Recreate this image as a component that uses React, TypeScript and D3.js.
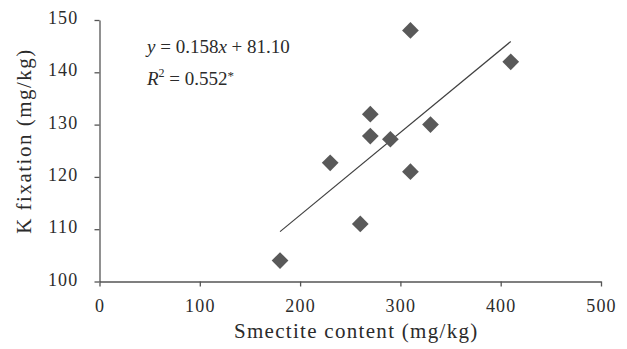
import { useEffect, useRef } from "react"
import * as d3 from "d3"

// Smectite content (mg/kg) vs K fixation (mg/kg)
const smectite = [180, 230, 260, 270, 270, 290, 310, 310, 330, 410]
const kFixation = [104, 122.7, 111, 132, 127.8, 127.2, 148, 121, 130, 142]

const xTicks = [0, 100, 200, 300, 400, 500]
const yTicks = [100, 110, 120, 130, 140, 150]

const slope = 0.158
const intercept = 81.1

const FONT = "'Liberation Serif', 'Times New Roman', serif"
const INK = "#2b2b2b"

export default function App() {
  const ref = useRef<SVGSVGElement>(null)

  useEffect(() => {
    if (!ref.current) return
    const el = ref.current
    d3.select(el).selectAll("*").remove()

    const W = 627
    const H = 349
    const svg = d3.select(el).attr("width", W).attr("height", H).attr("viewBox", `0 0 ${W} ${H}`)

    svg.append("rect").attr("width", W).attr("height", H).attr("fill", "white")

    const x = d3.scaleLinear().domain([0, 500]).range([99.5, 601])
    const y = d3.scaleLinear().domain([100, 150]).range([281.5, 20])

    const xAxis = svg
      .append("g")
      .attr("transform", `translate(0,${y(100)})`)
      .call(d3.axisBottom(x).tickValues(xTicks).tickSize(5).tickSizeOuter(0).tickPadding(13))
    const yAxis = svg
      .append("g")
      .attr("transform", `translate(${x(0)},0)`)
      .call(d3.axisLeft(y).tickValues(yTicks).tickSize(5).tickSizeOuter(0).tickPadding(16))

    for (const ax of [xAxis, yAxis]) {
      ax.select(".domain").attr("stroke", "#555").attr("stroke-width", 1.3)
      ax.selectAll(".tick line").attr("stroke", "#555").attr("stroke-width", 1.3)
      ax.selectAll(".tick text")
        .attr("fill", INK)
        .attr("font-family", FONT)
        .attr("font-size", 18)
        .attr("letter-spacing", 1.2)
    }
    yAxis.selectAll(".tick text").attr("dy", "0.2em")

    // trend line over the observed range
    const [x0, x1] = d3.extent(smectite) as [number, number]
    svg
      .append("line")
      .attr("x1", x(x0))
      .attr("y1", y(slope * x0 + intercept))
      .attr("x2", x(x1))
      .attr("y2", y(slope * x1 + intercept))
      .attr("stroke", "#404040")
      .attr("stroke-width", 1.2)

    const diamond = d3.symbol().type(d3.symbolSquare).size(140)
    svg
      .append("g")
      .selectAll("path")
      .data(smectite.map((s, i) => [s, kFixation[i]]))
      .join("path")
      .attr("d", diamond)
      .attr("transform", (d) => `translate(${x(d[0])},${y(d[1])}) rotate(45)`)
      .attr("fill", "#595959")

    // equation
    const eq = svg
      .append("text")
      .attr("x", 147)
      .attr("y", 53)
      .attr("font-family", FONT)
      .attr("font-size", 19)
      .attr("fill", INK)
    eq.append("tspan").attr("font-style", "italic").text("y")
    eq.append("tspan").text(" = 0.158")
    eq.append("tspan").attr("font-style", "italic").text("x")
    eq.append("tspan").text(" + 81.10")

    const r2 = svg
      .append("text")
      .attr("x", 147)
      .attr("y", 85)
      .attr("font-family", FONT)
      .attr("font-size", 19)
      .attr("fill", INK)
    r2.append("tspan").attr("font-style", "italic").text("R")
    r2.append("tspan").attr("font-size", 12).attr("dy", -8).text("2")
    r2.append("tspan").attr("dy", 8).text(" = 0.552")
    r2.append("tspan").attr("font-size", 13).attr("dy", -5).text("*")

    svg
      .append("text")
      .attr("x", (x(0) + x(500)) / 2 + 6)
      .attr("y", 338)
      .attr("text-anchor", "middle")
      .attr("font-family", FONT)
      .attr("font-size", 21)
      .attr("letter-spacing", 1.3)
      .attr("fill", INK)
      .text("Smectite content (mg/kg)")

    svg
      .append("text")
      .attr("transform", `translate(31,141) rotate(-90)`)
      .attr("text-anchor", "middle")
      .attr("font-family", FONT)
      .attr("font-size", 21)
      .attr("letter-spacing", 1.5)
      .attr("fill", INK)
      .text("K fixation (mg/kg)")
  }, [])

  return <svg ref={ref} style={{ position: "absolute", left: 0, top: 0, display: "block" }} />
}
